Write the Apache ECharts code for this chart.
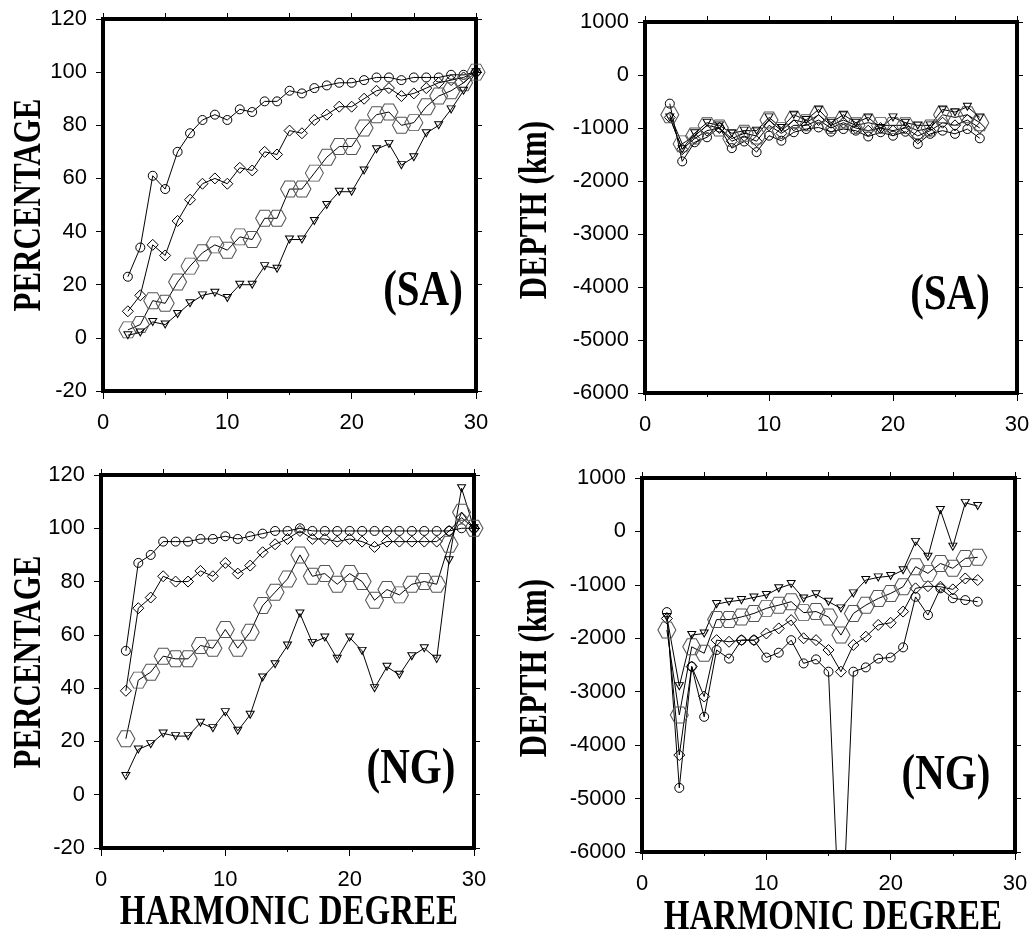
<!DOCTYPE html>
<html>
<head>
<meta charset="utf-8">
<script src="https://cdn.jsdelivr.net/npm/echarts@6/dist/echarts.min.js"></script>
<style>
html,body{margin:0;padding:0;background:#fff;}
#chart{width:1035px;height:937px;}
</style>
</head>
<body>
<div id="chart"></div>
<script>
// ---------- DATA ----------
const degPct = [2,3,4,5,6,7,8,9,10,11,12,13,14,15,16,17,18,19,20,21,22,23,24,25,26,27,28,29,30];
const degDep = [2,3,4,5,6,7,8,9,10,11,12,13,14,15,16,17,18,19,20,21,22,23,24,25,26,27];

const saPctCircle   = [23,34,61,56,70,77,82,84,82,86,85,89,89,93,92,94,95,96,96,97,98,98,97,98,98,98,99,99,100];
const saPctDiamond  = [10,16,35,31,44,52,58,60,58,64,63,70,69,78,77,82,84,87,87,90,93,94,91,92,94,96,97,98,100];
const saPctHexagon  = [3,5,14,13,21,27,32,35,33,38,37,45,45,56,56,62,68,72,72,79,84,85,80,81,87,91,93,96,100];
const saPctTriangle = [1,2,6,5,9,13,16,17,15,20,20,27,26,37,37,44,50,55,55,63,71,73,65,68,77,80,86,93,100];

const saDepCircle   = [-540,-1630,-1270,-1175,-990,-1380,-1255,-1455,-1145,-1240,-1080,-1020,-990,-1070,-1020,-1050,-1160,-1080,-1145,-1070,-1300,-1110,-1050,-1110,-1020,-1195];
const saDepDiamond  = [-800,-1400,-1200,-1050,-1000,-1250,-1150,-1250,-950,-1100,-950,-950,-850,-1000,-900,-1000,-1050,-1000,-1050,-1000,-1150,-1050,-900,-950,-850,-1000];
const saDepHexagon  = [-750,-1300,-1150,-950,-1000,-1200,-1100,-1150,-850,-1050,-850,-900,-750,-950,-850,-950,-900,-950,-950,-950,-1050,-1000,-750,-800,-750,-900];
const saDepTriangle = [-800,-1400,-1100,-900,-950,-1100,-1050,-1050,-800,-1000,-750,-850,-650,-900,-750,-900,-800,-1000,-800,-900,-950,-950,-650,-700,-600,-800];

const ngPctCircle   = [54,87,90,95,95,95,96,96,97,96,97,98,99,99,100,99,99,99,99,99,99,99,99,99,99,99,99,100,100];
const ngPctDiamond  = [39,70,74,82,80,80,84,82,87,83,86,91,94,96,99,96,96,95,96,95,93,95,95,95,95,95,99,104,100];
const ngPctHexagon  = [21,43,46,52,51,51,56,55,62,55,61,71,76,81,90,82,83,79,83,80,73,77,75,79,80,79,94,106,100];
const ngPctTriangle = [7,17,19,23,22,22,27,25,31,24,30,44,49,56,68,57,59,51,59,54,40,48,45,52,55,51,88,115,100];

const ngDepCircle   = [-1510,-4800,-2530,-3470,-2220,-2380,-2035,-2035,-2360,-2270,-2035,-2470,-2395,-2625,-8000,-2625,-2545,-2380,-2360,-2170,-1225,-1565,-1065,-1250,-1285,-1315];
const ngDepDiamond  = [-1630,-4185,-2530,-3090,-2035,-2065,-2035,-2035,-1910,-1815,-1660,-2000,-2035,-2220,-2625,-2125,-1970,-1750,-1710,-1500,-1065,-1025,-1035,-1085,-880,-910];
const ngDepHexagon  = [-1845,-3435,-2160,-2280,-1650,-1650,-1600,-1535,-1440,-1380,-1315,-1520,-1500,-1600,-1940,-1535,-1380,-1255,-1160,-1035,-660,-785,-600,-690,-505,-485];
const ngDepTriangle = [-1600,-2895,-1940,-1910,-1360,-1315,-1285,-1235,-1190,-1065,-985,-1255,-1175,-1315,-1440,-1160,-910,-860,-835,-725,-195,-475,400,-285,535,475];

const xTicks = [0,10,20,30];
const pctRange = {min:-20, max:120, interval:20};
const depRange = {min:-6000, max:1000, interval:1000};

const yTitlePct = 'PERCENTAGE';
const yTitleDep = 'DEPTH (km)';
const xTitle = 'HARMONIC DEGREE';
const labelSA = '(SA)';
const labelNG = '(NG)';

// ---------- LAYOUT ----------
const grids = [
  {left:103, top:19,  width:373, height:372},
  {left:645, top:22,  width:372, height:371},
  {left:101, top:475, width:373, height:373},
  {left:642, top:478, width:373, height:374}
];

const SYM = {
  circle:   {symbol:'circle', size:9, color:'#000'},
  diamond:  {symbol:'diamond', size:[11,11], color:'#000'},
  hexagon:  {symbol:'path://M0,5L2.5,0.67L7.5,0.67L10,5L7.5,9.33L2.5,9.33Z', size:[18,16], color:'#555'},
  triangle: {symbol:'path://M0,0L10,0L5,9Z', size:[8,7], color:'#000'}
};

function pairs(xs, ys){ return ys.map((v,i)=>[xs[i], v]); }

function mkSeries(idx, xs, ys, kind){
  const s = SYM[kind];
  return {
    type:'line', xAxisIndex:idx, yAxisIndex:idx,
    data: pairs(xs, ys),
    symbol: s.symbol, symbolSize: s.size, showSymbol:true,
    lineStyle:{color:'#000', width:1},
    itemStyle:{color:'rgba(255,255,255,0)', borderColor:s.color, borderWidth:1},
    emphasis:{disabled:true},
    clip:true, animation:false, z:3
  };
}

const labelFont = {fontFamily:'Liberation Sans', fontSize:22, color:'#000'};

const xAxes = [], yAxes = [];
grids.forEach((g,i)=>{
  const r = (i%2===0) ? pctRange : depRange;
  xAxes.push({
    gridIndex:i, type:'value', min:0, max:30, interval:10, position:'bottom',
    axisLine:{show:false, onZero:false}, splitLine:{show:false},
    axisTick:{show:true, length:8, lineStyle:{color:'#000', width:1}},
    minorTick:{show:true, splitNumber:2, length:4, lineStyle:{color:'#000', width:1}},
    axisLabel:Object.assign({margin:21, formatter:v=> xTicks.includes(v)? String(v):''}, labelFont)
  });
  yAxes.push({
    gridIndex:i, type:'value', min:r.min, max:r.max, interval:r.interval, position:'left',
    axisLine:{show:false, onZero:false}, splitLine:{show:false},
    axisTick:{show:true, length:7, lineStyle:{color:'#000', width:1}},
    axisLabel:Object.assign({margin:16, formatter:v=>String(v)}, labelFont)
  });
});
// frame axes (top / right) with ticks only
grids.forEach((g,i)=>{
  const r = (i%2===0) ? pctRange : depRange;
  xAxes.push({
    gridIndex:i, type:'value', min:0, max:30, interval:5, position:'top',
    axisLine:{show:false, onZero:false}, splitLine:{show:false},
    axisTick:{show:true, length:6, lineStyle:{color:'#000', width:1}},
    axisLabel:{show:false}
  });
  yAxes.push({
    gridIndex:i, type:'value', min:r.min, max:r.max, interval:r.interval, position:'right',
    axisLine:{show:false, onZero:false}, splitLine:{show:false},
    axisTick:{show:true, length:6, lineStyle:{color:'#000', width:1}},
    axisLabel:{show:false}
  });
});

const series = [
  mkSeries(0, degPct, saPctCircle, 'circle'),
  mkSeries(0, degPct, saPctDiamond, 'diamond'),
  mkSeries(0, degPct, saPctHexagon, 'hexagon'),
  mkSeries(0, degPct, saPctTriangle, 'triangle'),
  mkSeries(1, degDep, saDepCircle, 'circle'),
  mkSeries(1, degDep, saDepDiamond, 'diamond'),
  mkSeries(1, degDep, saDepHexagon, 'hexagon'),
  mkSeries(1, degDep, saDepTriangle, 'triangle'),
  mkSeries(2, degPct, ngPctCircle, 'circle'),
  mkSeries(2, degPct, ngPctDiamond, 'diamond'),
  mkSeries(2, degPct, ngPctHexagon, 'hexagon'),
  mkSeries(2, degPct, ngPctTriangle, 'triangle'),
  mkSeries(3, degDep, ngDepCircle, 'circle'),
  mkSeries(3, degDep, ngDepDiamond, 'diamond'),
  mkSeries(3, degDep, ngDepHexagon, 'hexagon'),
  mkSeries(3, degDep, ngDepTriangle, 'triangle')
];

function txt(text, x, y, size, rot, sy){
  return {
    type:'text', x:x, y:y, rotation:rot||0, scaleY:sy||1, z:100,
    style:{text:text, font:'bold '+size+'px "Liberation Serif", "Times New Roman", serif',
      fill:'#000', textAlign:'center', textVerticalAlign:'middle', align:'center', verticalAlign:'middle'}
  };
}

const graphics = [
  txt(yTitlePct, 30, 205, 31, Math.PI/2, 1.3),
  txt(yTitlePct, 30, 662, 31, Math.PI/2, 1.3),
  txt(yTitleDep, 536, 210, 31, Math.PI/2, 1.3),
  txt(yTitleDep, 536, 668, 31, Math.PI/2, 1.3),
  txt(xTitle, 289, 913, 33, 0, 1.3),
  txt(xTitle, 833, 918, 33, 0, 1.3),
  txt(labelSA, 423, 292, 41, 0, 1.25),
  txt(labelSA, 950, 296, 41, 0, 1.25),
  txt(labelNG, 411, 770, 41, 0, 1.25),
  txt(labelNG, 946, 776, 41, 0, 1.25)
];

const chart = echarts.init(document.getElementById('chart'), null, {renderer:'canvas'});
chart.setOption({
  animation:false,
  backgroundColor:'#fff',
  grid: grids.map(g=>Object.assign({show:true, borderColor:'#000', borderWidth:4, backgroundColor:'rgba(0,0,0,0)', containLabel:false}, g)),
  xAxis: xAxes,
  yAxis: yAxes,
  series: series,
  graphic: graphics
});
</script>
</body>
</html>
